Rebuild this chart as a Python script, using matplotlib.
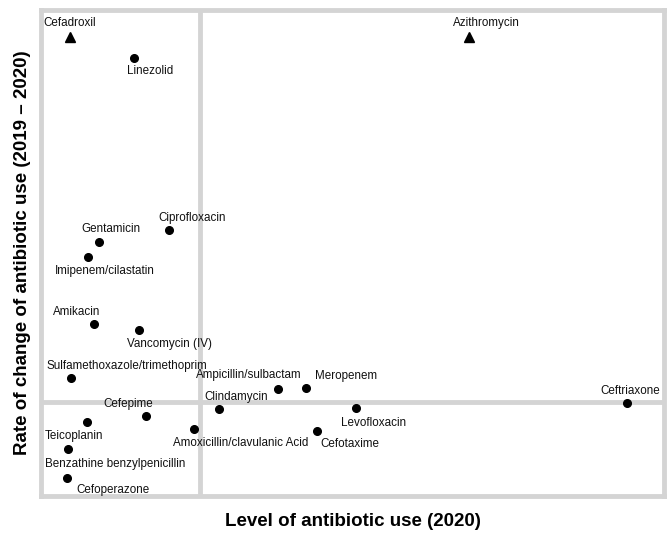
import matplotlib
matplotlib.use("Agg")
import matplotlib.pyplot as plt

plt.rcParams["font.family"] = ["Liberation Sans", "DejaVu Sans"]

# level of use (2020), relative scale 0-100
names = [
    "Cefadroxil", "Azithromycin", "Linezolid", "Ciprofloxacin", "Gentamicin",
    "Imipenem/cilastatin", "Amikacin", "Vancomycin (IV)", "Sulfamethoxazole/trimethoprim",
    "Ampicillin/sulbactam", "Meropenem", "Clindamycin", "Ceftriaxone", "Levofloxacin",
    "Cefepime", "Teicoplanin", "Amoxicillin/clavulanic Acid", "Cefotaxime",
    "Benzathine benzylpenicillin", "Cefoperazone",
]
level = [4.65, 68.7, 14.9, 20.5, 9.3, 7.5, 8.5, 15.7, 4.8, 38.0, 42.5, 28.6, 94.1,
         50.6, 16.9, 7.4, 24.6, 44.3, 4.3, 4.2]
rate = [93.1, 93.1, 87.8, 43.9, 40.8, 37.0, 19.9, 18.4, 6.1, 3.3, 3.6, -1.8, -0.3,
        -1.5, -3.6, -5.1, -6.9, -7.4, -12.0, -19.4]
outlier = ["Cefadroxil", "Azithromycin"]

# label offsets in pixels (dx, dy)
offsets = [(0, 14), (17, 14), (16, -13), (23, 12), (12, 13), (17, -14), (-17, 12),
           (31, -14), (56, 12), (-29, 14), (40, 12), (17, 12), (3, 12), (17, -15),
           (-18, 12), (-13, -14), (46, -14), (33, -13), (47, -15), (46, -12)]

level_split = 25.5
rate_split = 0.0
grey = "#d4d4d4"

fig = plt.figure(figsize=(6.67, 5.33), dpi=100)
ax = fig.add_axes([0.0615, 0.0694, 0.934, 0.912])

for name, x, y, (dx, dy) in zip(names, level, rate, offsets):
    marker = "^" if name in outlier else "o"
    ax.plot(x, y, marker=marker, color="black", markersize=5.5 if marker == "o" else 6.5,
            linestyle="none", zorder=3)
    ax.annotate(name, (x, y), xytext=(dx, dy), textcoords="offset pixels",
                ha="center", va="center", fontsize=8.4, color="#111111", zorder=4)

ax.axvline(level_split, color=grey, linewidth=3.5, zorder=1)
ax.axhline(rate_split, color=grey, linewidth=3.5, zorder=1)

ax.set_xlim(0, 100)
ax.set_ylim(-24.0, 100)
ax.set_xticks([])
ax.set_yticks([])
for sp in ax.spines.values():
    sp.set_color(grey)
    sp.set_linewidth(3.5)

ax.set_xlabel("Level of antibiotic use (2020)", fontsize=13.5, fontweight="bold", labelpad=12)
ax.set_ylabel("Rate of change of antibiotic use (2019 \u2013 2020)", fontsize=13.5,
              fontweight="bold", labelpad=7)

fig.savefig("out.png", dpi=100)
